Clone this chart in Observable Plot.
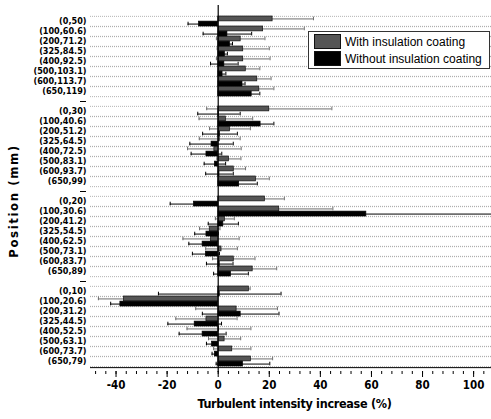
<!DOCTYPE html>
<html>
<head>
<meta charset="utf-8">
<script src="https://cdn.jsdelivr.net/npm/d3@7"></script>
<script src="https://cdn.jsdelivr.net/npm/@observablehq/plot@0.6"></script>
<style>
  body { margin: 0; background: #fff; }
  #wrap { position: relative; width: 491px; height: 419px; }
  .legend { position: absolute; left: 308px; top: 31px; width: 180px; height: 36px; border: 1px solid #333; background: #fff;
            font: 12px "Liberation Sans", Arial, sans-serif; color: #000; }
  .legend .row { position: absolute; left: 5px; height: 17px; display: flex; align-items: center; }
  .legend .sw { width: 27px; height: 15px; border: 1px solid #111; margin-right: 4px; box-sizing: border-box; }
</style>
</head>
<body>
<div id="wrap"></div>
<script>
// ---- data ----
const group1 = ["(0,50)","(100,60.6)","(200,71.2)","(325,84.5)","(400,92.5)","(500,103.1)","(600,113.7)","(650,119)"];
const group2 = ["(0,30)","(100,40.6)","(200,51.2)","(325,64.5)","(400,72.5)","(500,83.1)","(600,93.7)","(650,99)"];
const group3 = ["(0,20)","(100,30.6)","(200,41.2)","(325,54.5)","(400,62.5)","(500,73.1)","(600,83.7)","(650,89)"];
const group4 = ["(0,10)","(100,20.6)","(200,31.2)","(325,44.5)","(400,52.5)","(500,63.1)","(600,73.7)","(650,79)"];

const withValues = [
  [21.3, 17.6, 8.8, 9.8, 9.8, 10.8, 15.3, 16.1],
  [20.0, 3.0, 4.6, 0.6, -1.5, 4.2, 6.1, 14.8],
  [18.3, 23.9, 2.6, -3.3, -2.8, 1.3, 6.1, 13.5],
  [12.0, -36.9, 7.2, -4.6, 0.3, 2.5, 5.5, 12.8]
];
const withErrors = [
  [16.0, 16.1, 9.5, 10.2, 10.5, 5.5, 5.4, 5.7],
  [24.5, 10.5, 8.0, 8.0, 10.5, 4.7, 4.6, 5.2],
  [7.6, 21.0, 3.7, 4.0, 11.0, 6.2, 8.3, 9.4],
  [0.5, 10.0, 16.0, 12.0, 12.5, 6.3, 7.3, 8.5]
];
const withoutValues = [
  [-7.5, 3.6, 4.6, 2.6, 2.4, 1.7, 9.5, 13.1],
  [0.3, 16.6, 0.7, -2.6, -4.6, -1.3, 0.5, 8.2],
  [-9.5, 58.0, 2.0, -4.6, -6.1, -4.8, 0.6, 5.0],
  [0.6, -38.3, 8.8, -9.2, -6.1, -2.4, -1.3, 9.7]
];
const withoutErrors = [
  [4.3, 9.5, 1.0, 1.0, 5.4, 1.3, 1.0, 3.2],
  [8.3, 5.2, 6.8, 8.5, 6.0, 4.2, 5.4, 7.1],
  [9.3, 55.0, 5.9, 4.6, 5.4, 5.3, 5.2, 6.8],
  [24.0, 3.8, 15.0, 10.5, 9.2, 2.2, 1.1, 10.5]
];
const seriesNames = ["With insulation coating", "Without insulation coating"];
const xTicks = [-40, -20, 0, 20, 40, 60, 80, 100];
const xTitle = "Turbulent intensity increase (%)";
const yTitle = "Position (mm)";

// ---- build tables ----
const groups = [group1, group2, group3, group4];
const withRows = [], withoutRows = [];
groups.forEach((labels, g) => labels.forEach((label, i) => {
  withRows.push({label, value: withValues[g][i], err: withErrors[g][i]});
  withoutRows.push({label, value: withoutValues[g][i], err: withoutErrors[g][i]});
}));
const gapKeys = [];
const yDomain = [];
groups.forEach((labels, g) => {
  if (g > 0) { const k = "gap" + g; gapKeys.push(k); yDomain.push(k); }
  yDomain.push(...labels);
});
const allLabels = groups.flat();

const W = 491, H = 419, MT = 11, MB = 49, ML = 90, MR = 0;
const bw = (H - MT - MB) / yDomain.length;
const FONT = '"Liberation Sans Narrow", "DejaVu Sans Condensed", "Arial Narrow", sans-serif';
const minorTicks = d3.range(-48, 108, 4);

const errMarks = (rows, color, top) => {
  const capIn = top ? {insetTop: 0.6, insetBottom: bw / 2 + 0.6} : {insetTop: bw / 2 + 0.6, insetBottom: 0.6};
  return [
    Plot.ruleY(rows, {y: "label", x1: d => d.value - d.err, x2: d => d.value + d.err, dy: top ? -bw / 4 : bw / 4, stroke: color, strokeWidth: 1, clip: true}),
    Plot.tickX(rows, {x: d => d.value - d.err, y: "label", ...capIn, stroke: color, clip: true}),
    Plot.tickX(rows, {x: d => d.value + d.err, y: "label", ...capIn, stroke: color, clip: true})
  ];
};

const chart = Plot.plot({
  width: W, height: H,
  marginLeft: ML, marginRight: MR, marginTop: MT, marginBottom: MB,
  style: {fontFamily: FONT, background: "#fff", overflow: "visible"},
  x: {domain: [-50, 107]},
  y: {type: "band", domain: yDomain, padding: 0},
  marks: [
    Plot.ruleY(allLabels, {dy: -bw / 2, stroke: "#aaa", strokeDasharray: "1,1", strokeWidth: 0.9}),
    Plot.ruleY(allLabels, {dy: bw / 2, stroke: "#aaa", strokeDasharray: "1,1", strokeWidth: 0.9}),
    ...errMarks(withRows, "#6e6e6e", true),
    ...errMarks(withoutRows, "#000", false),
    Plot.barX(withRows, {x: "value", y: "label", insetBottom: bw / 2, fill: "#555", stroke: "#111", strokeWidth: 0.7}),
    Plot.barX(withoutRows, {x: "value", y: "label", insetTop: bw / 2, fill: "#000", stroke: "#000", strokeWidth: 0.7}),
    Plot.ruleX([0], {stroke: "#000", strokeWidth: 1.2, insetTop: -6, insetBottom: -2}),
    Plot.ruleY([allLabels[allLabels.length - 1]], {dy: bw / 2 + 1, stroke: "#000"}),
    Plot.axisX({ticks: minorTicks, tickSize: 3, tickFormat: () => "", label: null, dy: 1}),
    Plot.axisX({ticks: xTicks, tickSize: 6, tickPadding: 3, tickFormat: d => String(d), fontSize: 11.5, fontWeight: "bold", label: null, dy: 1}),
    Plot.axisY({ticks: allLabels, tickSize: 0, tickPadding: 4, fontSize: 9, fontWeight: "bold", label: null}),
    Plot.axisY({ticks: gapKeys, tickSize: 6, tickFormat: () => "", dx: -4, label: null})
  ]
});

const svg = d3.select(chart);
svg.append("text")
  .attr("x", (ML + W - MR) / 2 + 4).attr("y", 408)
  .attr("text-anchor", "middle")
  .attr("font-family", FONT).attr("font-weight", "bold").attr("font-size", 12.5)
  .attr("letter-spacing", -0.3)
  .text(xTitle);
svg.append("text")
  .attr("transform", "translate(18,201) rotate(-90)")
  .attr("text-anchor", "middle")
  .attr("font-family", FONT).attr("font-weight", "bold").attr("font-size", 13)
  .attr("letter-spacing", 1.6)
  .text(yTitle);

const wrap = document.getElementById("wrap");
wrap.appendChild(chart);

const legend = document.createElement("div");
legend.className = "legend";
const colors = ["#555", "#000"];
seriesNames.forEach((name, i) => {
  const row = document.createElement("div");
  row.className = "row";
  row.style.top = (1 + i * 17) + "px";
  const sw = document.createElement("div");
  sw.className = "sw";
  sw.style.background = colors[i];
  const t = document.createElement("span");
  t.textContent = name;
  row.appendChild(sw); row.appendChild(t);
  legend.appendChild(row);
});
wrap.appendChild(legend);
</script>
</body>
</html>
